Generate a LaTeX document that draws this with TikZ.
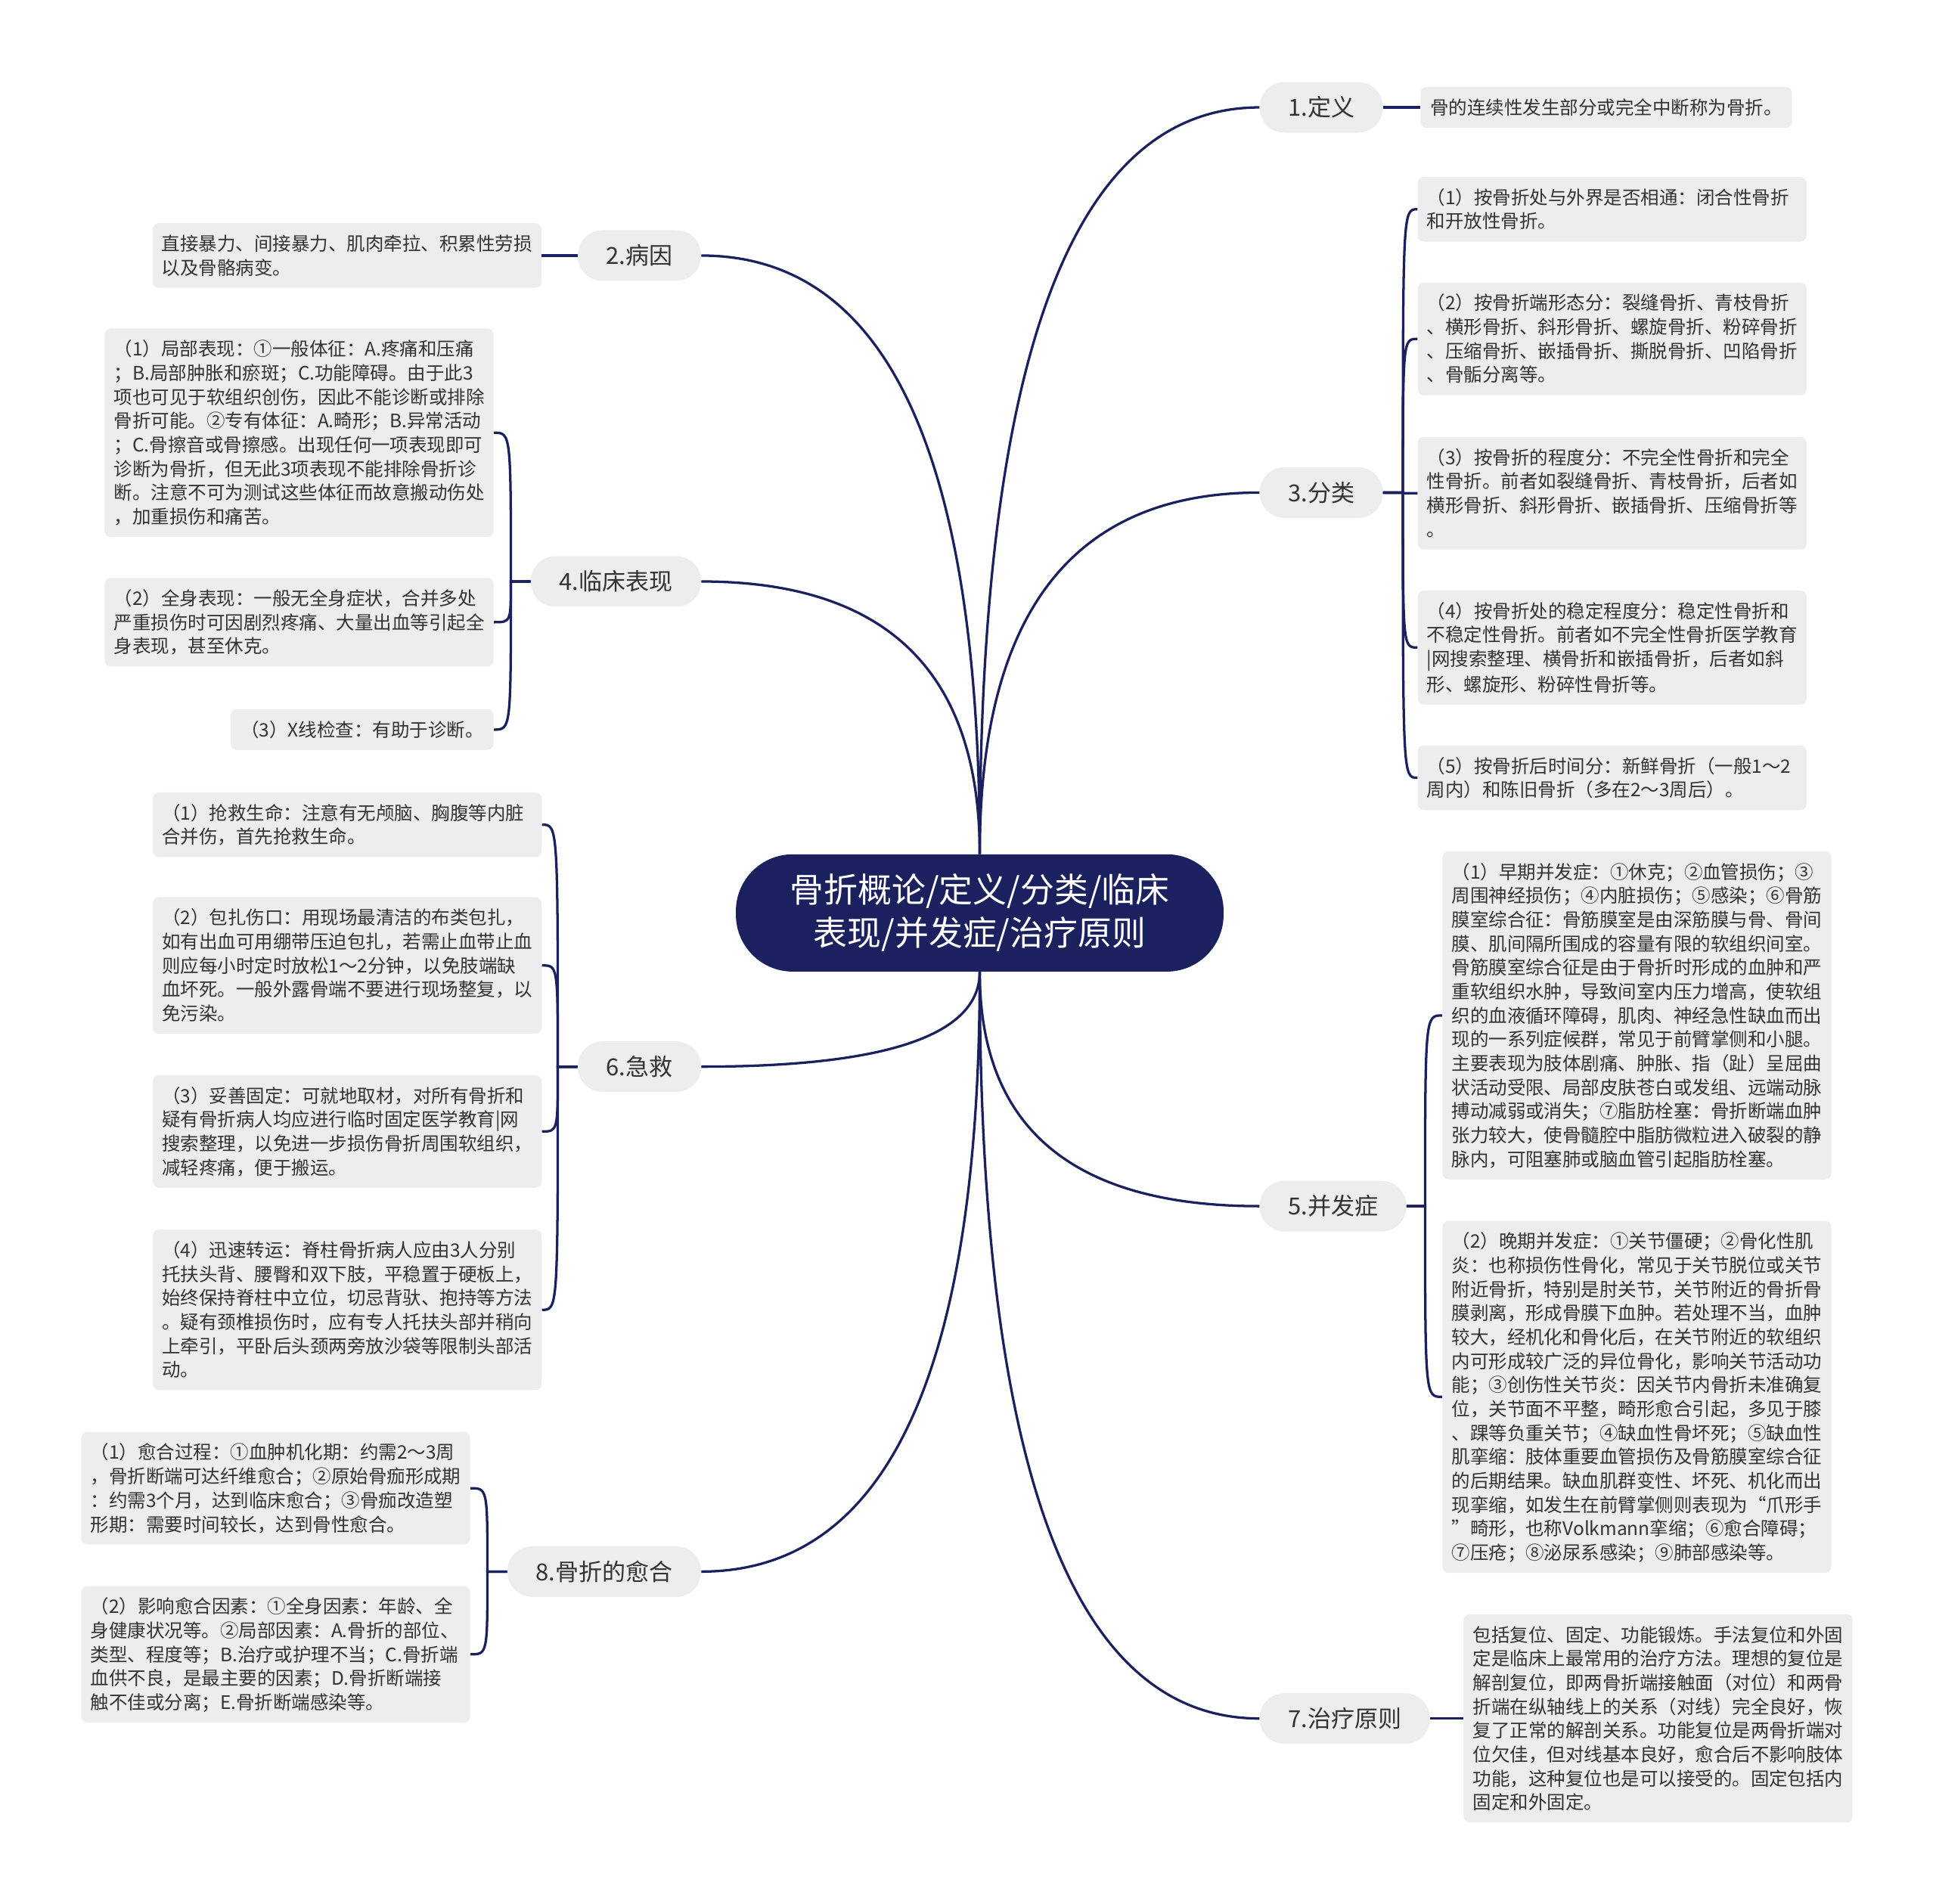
\documentclass[tikz,border=0pt]{standalone}
\usepackage{fontspec}
\setmainfont{Noto Sans CJK SC}
\usepackage{tikz}
\usetikzlibrary{calc, positioning}
\definecolor{navy}{HTML}{1B205E}
\definecolor{paper}{HTML}{EDEDED}
\definecolor{ink}{HTML}{333333}
\newcommand{\lstrut}{\rule[-4pt]{0pt}{19.4pt}}
\tikzstyle{root}    = [rectangle, rounded corners=46pt, minimum width=395pt,
                       minimum height=95pt, fill=navy, text=white, align=center,
                       font=\fontsize{27.5}{35}\selectfont]
\tikzstyle{topic}   = [rectangle, rounded corners=20pt, minimum height=41pt,
                       inner xsep=23pt, fill=paper, text=ink,
                       font=\fontsize{19}{23}\selectfont]
\tikzstyle{leaf}    = [rectangle, rounded corners=5pt, inner xsep=8pt,
                       inner ysep=6.8pt, fill=paper, text=ink, align=left,
                       font=\fontsize{15}{19.4}\selectfont,
                       execute at begin node=\lstrut, execute at end node=\lstrut]
\tikzstyle{leafwide}= [leaf, inner xsep=7.5pt, text width=300pt]
\tikzstyle{link}    = [draw=navy, line width=2pt]
\tikzstyle{curve}   = [to path={.. controls ($(\tikztostart)!0.667!(\tikztostart |- \tikztotarget)$)
                       and ($(\tikztotarget)!0.667!(\tikztostart |- \tikztotarget)$) .. (\tikztotarget)}]

\begin{document}
\begin{tikzpicture}[x=1pt, y=-1pt]
  \useasboundingbox (0,0) rectangle (1568,1542);

  \node[root] (root) at (793.5,739.5) {骨折概论/定义/分类/临床\\表现/并发症/治疗原则};

  %% Branches, right
  \node[topic, anchor=west] (define)  at (1020,87)   {1.定义};
  \node[topic, anchor=west] (kinds)   at (1020,399)  {3.分类};
  \node[topic, anchor=west] (complic) at (1020,977)  {5.并发症};
  \node[topic, anchor=west] (treat)   at (1020,1392) {7.治疗原则};

  %% Branches, left
  \node[topic, anchor=east] (cause)   at (568,207)   {2.病因};
  \node[topic, anchor=east] (signs)   at (568,471)   {4.临床表现};
  \node[topic, anchor=east] (aid)     at (568,864)   {6.急救};
  \node[topic, anchor=east] (heal)    at (568,1273)  {8.骨折的愈合};

  %% Leaves, right
  \node[leaf, right=30pt of define] (define1)
        {骨的连续性发生部分或完全中断称为骨折。};

  \node[leafwide, anchor=west] (kinds1) at (1148,169.5)
        {（1）按骨折处与外界是否相通：闭合性骨折\\和开放性骨折。};
  \node[leafwide, anchor=west] (kinds2) at (1148,274.5)
        {（2）按骨折端形态分：裂缝骨折、青枝骨折\\、横形骨折、斜形骨折、螺旋骨折、粉碎骨折\\、压缩骨折、嵌插骨折、撕脱骨折、凹陷骨折\\、骨骺分离等。};
  \node[leafwide, anchor=west] (kinds3) at (1148,399.5)
        {（3）按骨折的程度分：不完全性骨折和完全\\性骨折。前者如裂缝骨折、青枝骨折，后者如\\横形骨折、斜形骨折、嵌插骨折、压缩骨折等\\。};
  \node[leafwide, anchor=west] (kinds4) at (1148,524.5)
        {（4）按骨折处的稳定程度分：稳定性骨折和\\不稳定性骨折。前者如不完全性骨折医学教育\\|网搜索整理、横骨折和嵌插骨折，后者如斜\\形、螺旋形、粉碎性骨折等。};
  \node[leafwide, anchor=west] (kinds5) at (1148,630)
        {（5）按骨折后时间分：新鲜骨折（一般1～2\\周内）和陈旧骨折（多在2～3周后）。};

  \node[leafwide, anchor=west] (complic1) at (1168,822.5)
        {（1）早期并发症：①休克；②血管损伤；③\\周围神经损伤；④内脏损伤；⑤感染；⑥骨筋\\膜室综合征：骨筋膜室是由深筋膜与骨、骨间\\膜、肌间隔所围成的容量有限的软组织间室。\\骨筋膜室综合征是由于骨折时形成的血肿和严\\重软组织水肿，导致间室内压力增高，使软组\\织的血液循环障碍，肌肉、神经急性缺血而出\\现的一系列症候群，常见于前臂掌侧和小腿。\\主要表现为肢体剧痛、肿胀、指（趾）呈屈曲\\状活动受限、局部皮肤苍白或发组、远端动脉\\搏动减弱或消失；⑦脂肪栓塞：骨折断端血肿\\张力较大，使骨髓腔中脂肪微粒进入破裂的静\\脉内，可阻塞肺或脑血管引起脂肪栓塞。};
  \node[leafwide, anchor=west] (complic2) at (1168,1131.5)
        {（2）晚期并发症：①关节僵硬；②骨化性肌\\炎：也称损伤性骨化，常见于关节脱位或关节\\附近骨折，特别是肘关节，关节附近的骨折骨\\膜剥离，形成骨膜下血肿。若处理不当，血肿\\较大，经机化和骨化后，在关节附近的软组织\\内可形成较广泛的异位骨化，影响关节活动功\\能；③创伤性关节炎：因关节内骨折未准确复\\位，关节面不平整，畸形愈合引起，多见于膝\\、踝等负重关节；④缺血性骨坏死；⑤缺血性\\肌挛缩：肢体重要血管损伤及骨筋膜室综合征\\的后期结果。缺血肌群变性、坏死、机化而出\\现挛缩，如发生在前臂掌侧则表现为“爪形手\\”畸形，也称Volkmann挛缩；⑥愈合障碍；\\⑦压疮；⑧泌尿系感染；⑨肺部感染等。};

  \node[leafwide, right=27pt of treat] (treat1)
        {包括复位、固定、功能锻炼。手法复位和外固\\定是临床上最常用的治疗方法。理想的复位是\\解剖复位，即两骨折端接触面（对位）和两骨\\折端在纵轴线上的关系（对线）完全良好，恢\\复了正常的解剖关系。功能复位是两骨折端对\\位欠佳，但对线基本良好，愈合后不影响肢体\\功能，这种复位也是可以接受的。固定包括内\\固定和外固定。};

  %% Leaves, left
  \node[leafwide, left=29pt of cause] (cause1)
        {直接暴力、间接暴力、肌肉牵拉、积累性劳损\\以及骨骼病变。};

  \node[leafwide, anchor=east] (signs1) at (400,350.5)
        {（1）局部表现：①一般体征：A.疼痛和压痛\\；B.局部肿胀和瘀斑；C.功能障碍。由于此3\\项也可见于软组织创伤，因此不能诊断或排除\\骨折可能。②专有体征：A.畸形；B.异常活动\\；C.骨擦音或骨擦感。出现任何一项表现即可\\诊断为骨折，但无此3项表现不能排除骨折诊\\断。注意不可为测试这些体征而故意搬动伤处\\，加重损伤和痛苦。};
  \node[leafwide, anchor=east] (signs2) at (400,504)
        {（2）全身表现：一般无全身症状，合并多处\\严重损伤时可因剧烈疼痛、大量出血等引起全\\身表现，甚至休克。};
  \node[leaf, anchor=east] (signs3) at (400,591)
        {（3）X线检查：有助于诊断。};

  \node[leafwide, anchor=east] (aid1) at (439,668)
        {（1）抢救生命：注意有无颅脑、胸腹等内脏\\合并伤，首先抢救生命。};
  \node[leafwide, anchor=east] (aid2) at (439,782)
        {（2）包扎伤口：用现场最清洁的布类包扎，\\如有出血可用绷带压迫包扎，若需止血带止血\\则应每小时定时放松1～2分钟，以免肢端缺\\血坏死。一般外露骨端不要进行现场整复，以\\免污染。};
  \node[leafwide, anchor=east] (aid3) at (439,916.5)
        {（3）妥善固定：可就地取材，对所有骨折和\\疑有骨折病人均应进行临时固定医学教育|网\\搜索整理，以免进一步损伤骨折周围软组织，\\减轻疼痛，便于搬运。};
  \node[leafwide, anchor=east] (aid4) at (439,1061)
        {（4）迅速转运：脊柱骨折病人应由3人分别\\托扶头背、腰臀和双下肢，平稳置于硬板上，\\始终保持脊柱中立位，切忌背驮、抱持等方法\\。疑有颈椎损伤时，应有专人托扶头部并稍向\\上牵引，平卧后头颈两旁放沙袋等限制头部活\\动。};

  \node[leafwide, anchor=east] (heal1) at (381,1205.5)
        {（1）愈合过程：①血肿机化期：约需2～3周\\，骨折断端可达纤维愈合；②原始骨痂形成期\\：约需3个月，达到临床愈合；③骨痂改造塑\\形期：需要时间较长，达到骨性愈合。};
  \node[leafwide, anchor=east] (heal2) at (381,1340)
        {（2）影响愈合因素：①全身因素：年龄、全\\身健康状况等。②局部因素：A.骨折的部位、\\类型、程度等；B.治疗或护理不当；C.骨折端\\血供不良，是最主要的因素；D.骨折断端接\\触不佳或分离；E.骨折断端感染等。};

  %% Root to branches
  \foreach \b in {define, kinds}
    \draw[link, curve] (root.north) to (\b.west);
  \foreach \b in {cause, signs}
    \draw[link, curve] (root.north) to (\b.east);
  \foreach \b in {complic, treat}
    \draw[link, curve] (root.south) to (\b.west);
  \foreach \b in {aid, heal}
    \draw[link, curve] (root.south) to (\b.east);

  %% Branches to leaves
  \draw[link] (define) -- (define1);
  \draw[link] (treat) -- (treat1);
  \draw[link] (cause) -- (cause1);
  \foreach \l in {kinds1, kinds2, kinds3, kinds4, kinds5}
    \draw[link] (kinds.east) -- ++(16,0) coordinate (t)
          .. controls (t |- \l.west) .. (\l.west);
  \foreach \l in {complic1, complic2}
    \draw[link] (complic.east) -- ++(15,0) coordinate (t)
          .. controls (t |- \l.west) .. (\l.west);
  \foreach \l in {signs1, signs2, signs3}
    \draw[link] (signs.west) -- ++(-16,0) coordinate (t)
          .. controls (t |- \l.east) .. (\l.east);
  \foreach \l in {aid1, aid2, aid3, aid4}
    \draw[link] (aid.west) -- ++(-16,0) coordinate (t)
          .. controls (t |- \l.east) .. (\l.east);
  \foreach \l in {heal1, heal2}
    \draw[link] (heal.west) -- ++(-16,0) coordinate (t)
          .. controls (t |- \l.east) .. (\l.east);

\end{tikzpicture}
\end{document}
